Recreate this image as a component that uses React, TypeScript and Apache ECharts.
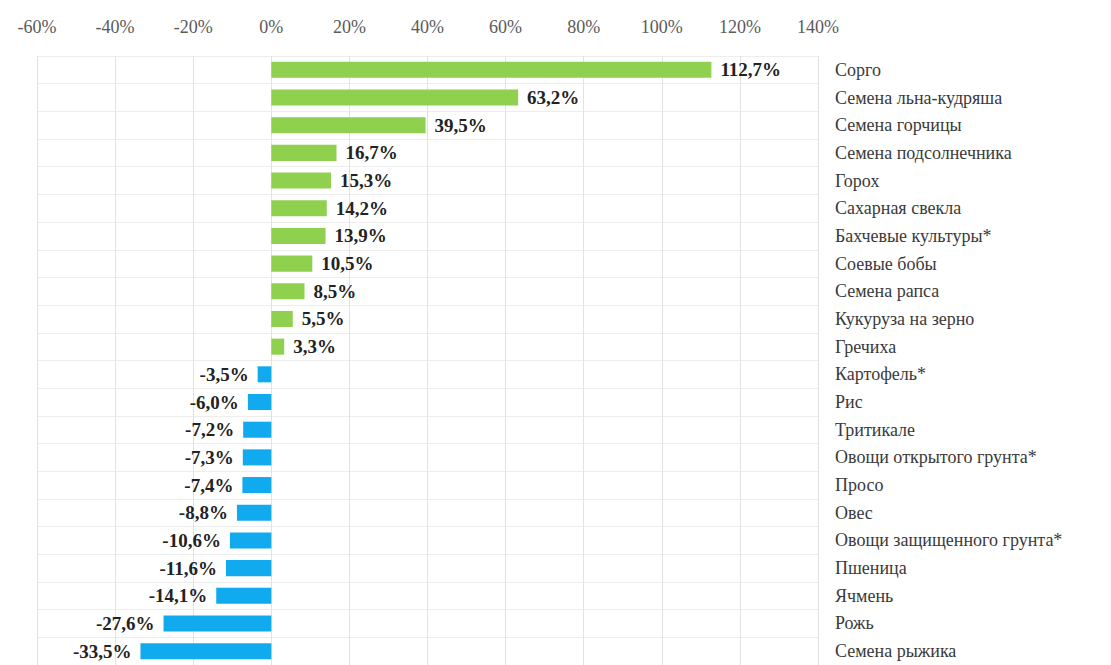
import React, { useEffect, useRef } from "react";
import * as echarts from "echarts";

const categories = [
  "Сорго",
  "Семена льна-кудряша",
  "Семена горчицы",
  "Семена подсолнечника",
  "Горох",
  "Сахарная свекла",
  "Бахчевые культуры*",
  "Соевые бобы",
  "Семена рапса",
  "Кукуруза на зерно",
  "Гречиха",
  "Картофель*",
  "Рис",
  "Тритикале",
  "Овощи открытого грунта*",
  "Просо",
  "Овес",
  "Овощи защищенного грунта*",
  "Пшеница",
  "Ячмень",
  "Рожь",
  "Семена рыжика",
];

const values = [
  112.7, 63.2, 39.5, 16.7, 15.3, 14.2, 13.9, 10.5, 8.5, 5.5, 3.3,
  -3.5, -6.0, -7.2, -7.3, -7.4, -8.8, -10.6, -11.6, -14.1, -27.6, -33.5,
];

const GREEN = "#8fd14f";
const BLUE = "#12aaee";

export default function App() {
  const ref = useRef<HTMLDivElement>(null);

  useEffect(() => {
    if (!ref.current) return;
    const chart = echarts.init(ref.current, null, { renderer: "svg" });
    const serif = "'Liberation Serif', 'DejaVu Serif', serif";
    chart.setOption({
      animation: false,
      backgroundColor: "#ffffff",
      grid: { left: 37, right: 293, top: 56, bottom: -3, containLabel: false },
      xAxis: {
        type: "value",
        position: "top",
        min: -60,
        max: 140,
        interval: 20,
        axisLine: { show: false },
        axisTick: { show: false },
        axisLabel: {
          margin: 20,
          color: "#5a5a5a",
          fontFamily: serif,
          fontSize: 18,
          formatter: (v: number) => `${v}%`,
        },
        splitLine: { show: true, lineStyle: { color: "#e2e2e2", width: 1 } },
      },
      yAxis: {
        type: "category",
        data: categories,
        inverse: true,
        position: "right",
        axisLine: { show: false },
        axisTick: { show: false },
        axisLabel: {
          margin: 17,
          color: "#3a3a3a",
          fontFamily: serif,
          fontSize: 18,
          align: "left",
        },
        splitLine: { show: true, lineStyle: { color: "#ededed", width: 1 } },
      },
      series: [
        {
          type: "bar",
          barWidth: "58%",
          data: values.map((v) => ({
            value: v,
            itemStyle: { color: v >= 0 ? GREEN : BLUE },
            label: {
              show: true,
              position: v >= 0 ? "right" : "left",
              distance: 9,
              color: "#222",
              fontWeight: "bold",
              fontFamily: serif,
              fontSize: 19,
              formatter: () => `${v.toFixed(1).replace(".", ",")}%`,
            },
          })),
        },
      ],
    });
    return () => chart.dispose();
  }, []);

  return (
    <div
      ref={ref}
      style={{ position: "fixed", left: 0, top: 0, width: 1111, height: 665 }}
    />
  );
}
